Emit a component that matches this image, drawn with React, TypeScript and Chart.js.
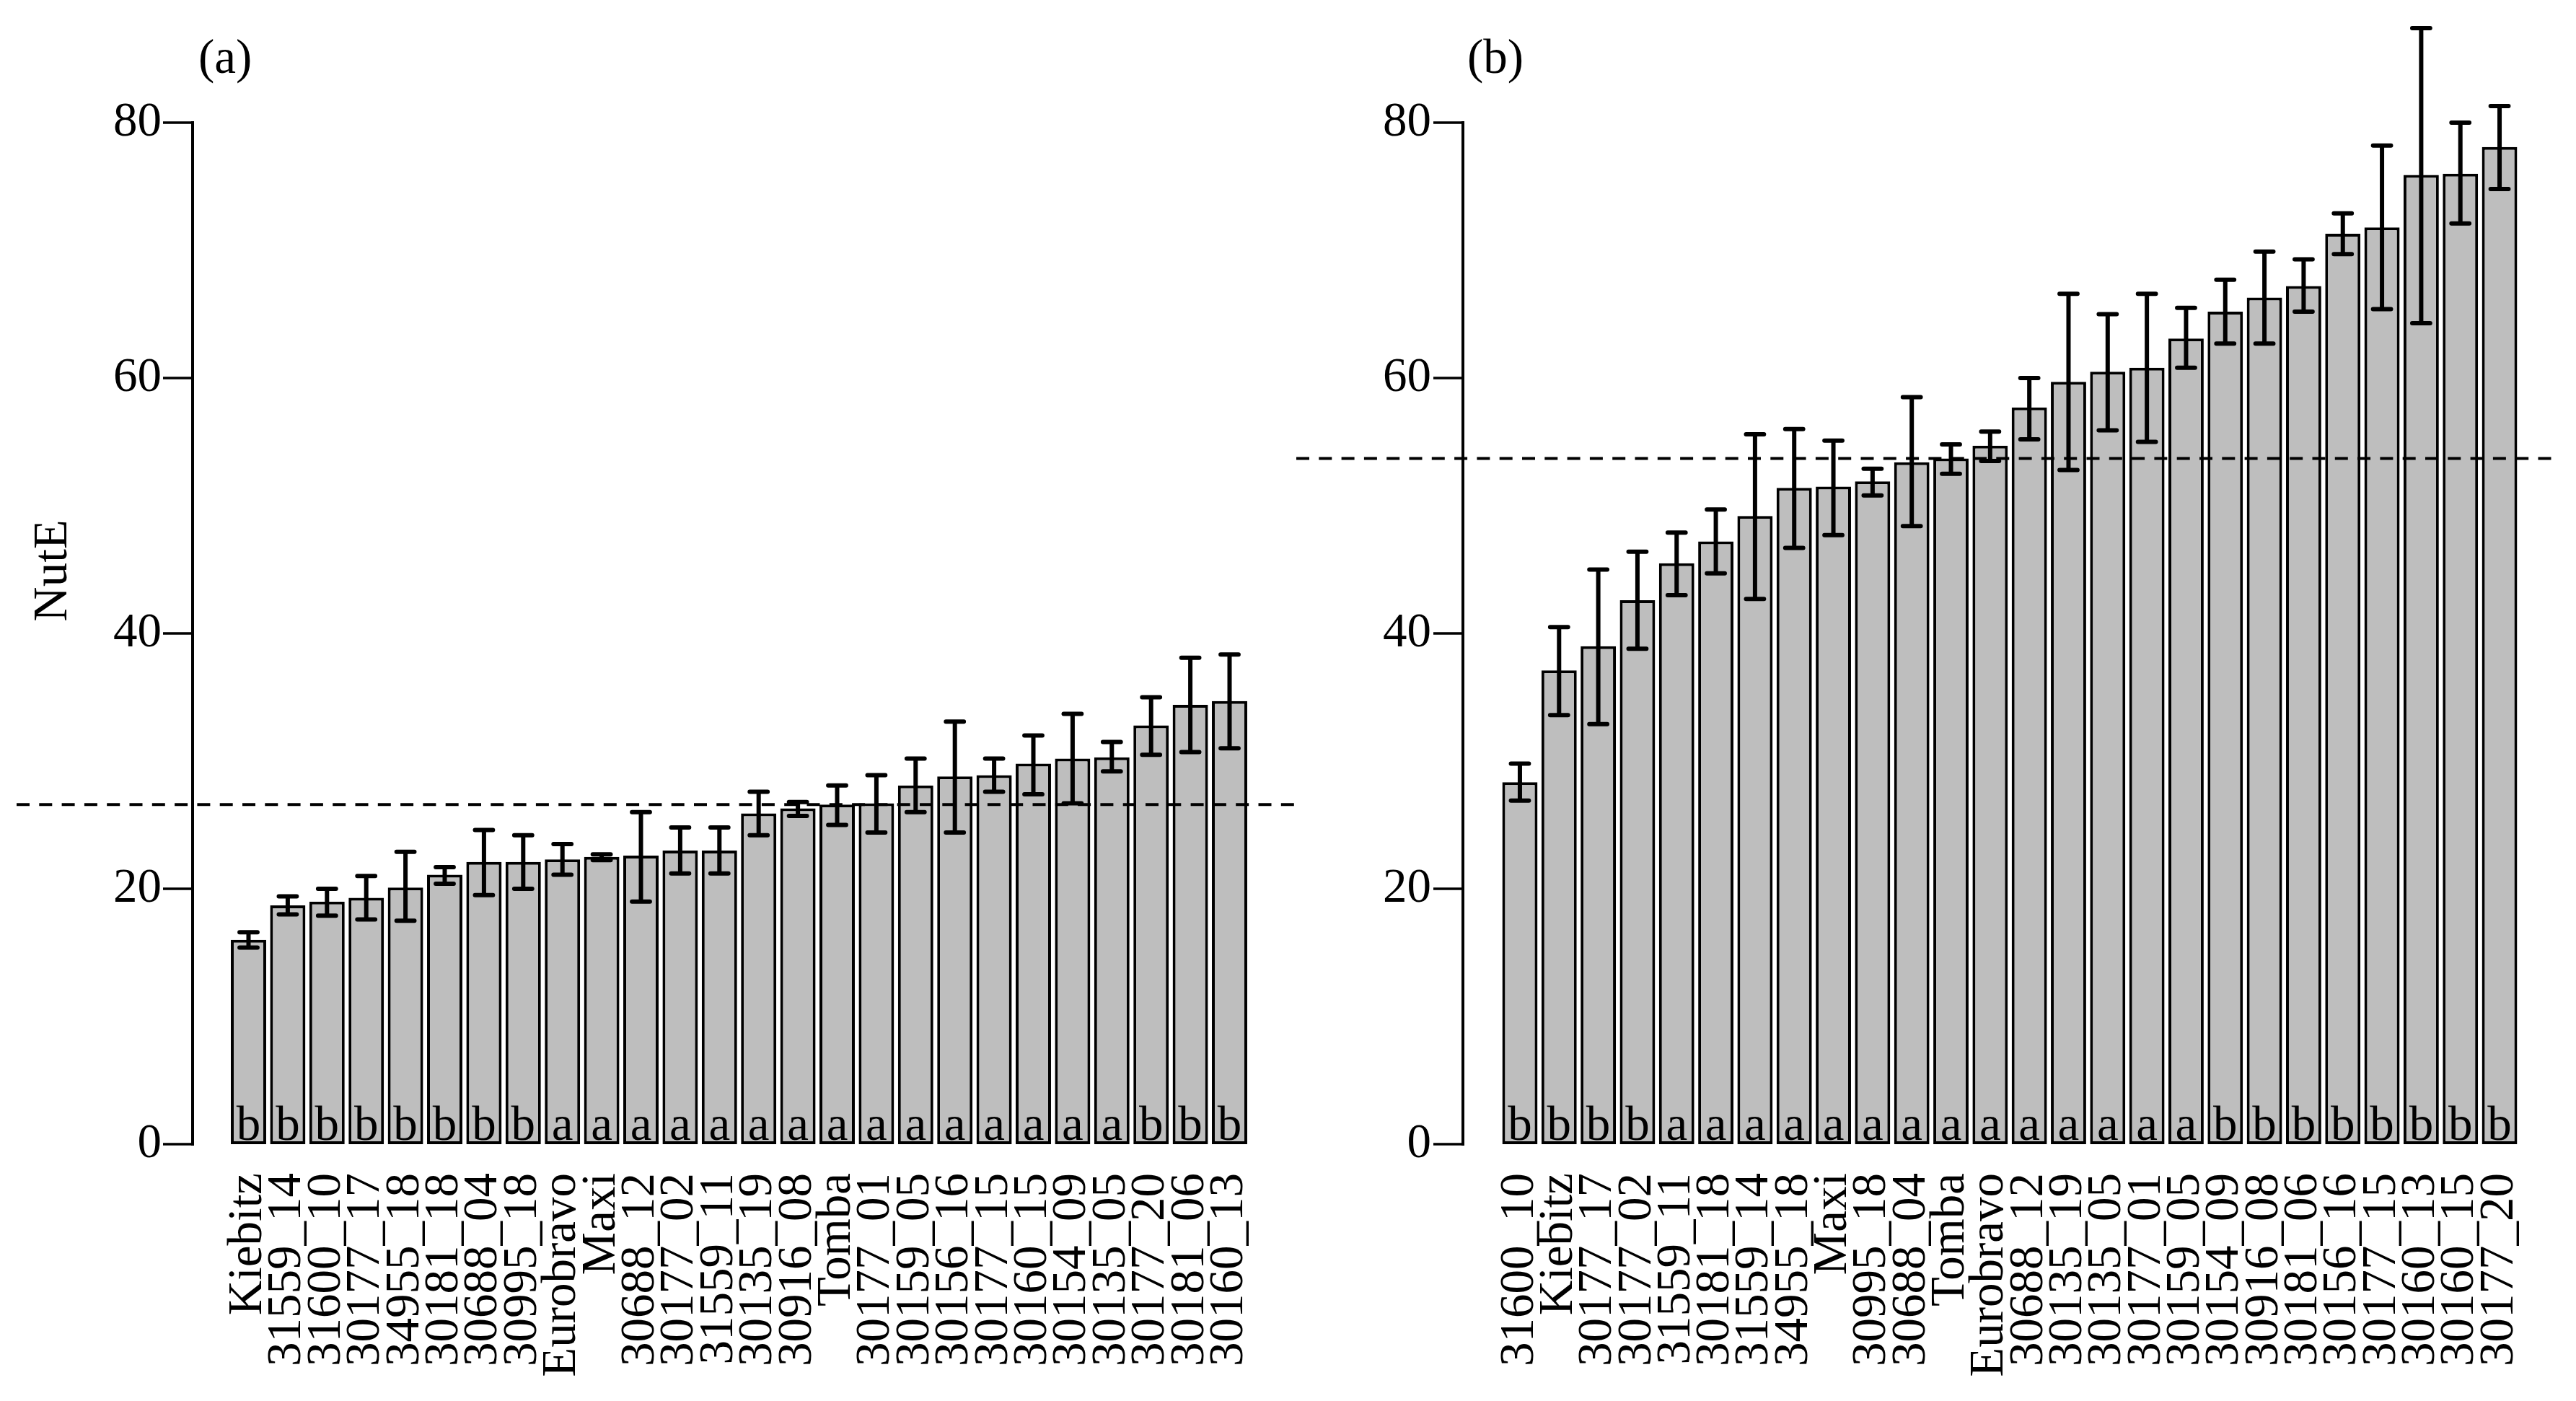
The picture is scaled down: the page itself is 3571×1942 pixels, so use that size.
import React, { useEffect, useRef } from 'react';
import { Chart, registerables } from 'chart.js';

Chart.register(...registerables);

// ---------- data ----------
const labelsA = ['Kiebitz', '31559_14', '31600_10', '30177_17', '34955_18', '30181_18', '30688_04', '30995_18', 'Eurobravo', 'Maxi', '30688_12', '30177_02', '31559_11', '30135_19', '30916_08', 'Tomba', '30177_01', '30159_05', '30156_16', '30177_15', '30160_15', '30154_09', '30135_05', '30177_20', '30181_06', '30160_13'];
const meansA = [16.0, 18.7, 19.0, 19.3, 20.1, 21.1, 22.1, 22.1, 22.3, 22.5, 22.6, 23.0, 23.0, 25.9, 26.3, 26.6, 26.7, 28.1, 28.8, 28.9, 29.8, 30.2, 30.3, 32.8, 34.4, 34.7];
const lowA = [15.4, 18.0, 17.9, 17.6, 17.5, 20.4, 19.5, 20.0, 21.1, 22.25, 19.0, 21.2, 21.2, 24.2, 25.7, 25.0, 24.4, 26.0, 24.4, 27.6, 27.4, 26.7, 29.2, 30.5, 30.7, 31.0];
const highA = [16.6, 19.4, 20.0, 21.0, 22.9, 21.7, 24.6, 24.2, 23.5, 22.7, 26.0, 24.8, 24.8, 27.6, 26.8, 28.1, 28.9, 30.2, 33.1, 30.2, 32.0, 33.7, 31.5, 35.0, 38.1, 38.35];
const groupsA = ['b', 'b', 'b', 'b', 'b', 'b', 'b', 'b', 'a', 'a', 'a', 'a', 'a', 'a', 'a', 'a', 'a', 'a', 'a', 'a', 'a', 'a', 'a', 'b', 'b', 'b'];
const meanLineA = 26.6;

const labelsB = ['31600_10', 'Kiebitz', '30177_17', '30177_02', '31559_11', '30181_18', '31559_14', '34955_18', 'Maxi', '30995_18', '30688_04', 'Tomba', 'Eurobravo', '30688_12', '30135_19', '30135_05', '30177_01', '30159_05', '30154_09', '30916_08', '30181_06', '30156_16', '30177_15', '30160_13', '30160_15', '30177_20'];
const meansB = [28.35, 37.1, 39.0, 42.6, 45.5, 47.2, 49.2, 51.4, 51.5, 51.9, 53.4, 53.7, 54.7, 57.7, 59.7, 60.5, 60.8, 63.1, 65.2, 66.3, 67.2, 71.3, 71.8, 75.9, 76.0, 78.1];
const lowB = [26.9, 33.6, 32.9, 38.8, 43.0, 44.7, 42.7, 46.7, 47.7, 50.8, 48.4, 52.5, 53.5, 55.2, 52.8, 55.9, 55.0, 60.8, 62.7, 62.7, 65.2, 69.7, 65.4, 64.3, 72.1, 74.8];
const highB = [29.8, 40.5, 45.0, 46.4, 47.9, 49.7, 55.6, 56.0, 55.1, 52.9, 58.5, 54.8, 55.8, 60.0, 66.6, 65.0, 66.6, 65.5, 67.7, 69.9, 69.3, 72.9, 78.2, 87.4, 80.0, 81.3];
const groupsB = ['b', 'b', 'b', 'b', 'a', 'a', 'a', 'a', 'a', 'a', 'a', 'a', 'a', 'a', 'a', 'a', 'a', 'a', 'b', 'b', 'b', 'b', 'b', 'b', 'b', 'b'];
const meanLineB = 53.7;

const yTicksStep = 20;
const yMin = 0;
const yMax = 88;
const yAxisTop = 80;
const yTitle = 'NutE';

// ---------- layout ----------
const H = 1942;
const FONT = "'Liberation Serif', 'Times New Roman', Times, serif";
const FS = 67;

type PanelCfg = {
  canvasLeft: number; width: number; chartLeft: number; chartRight: number;
  tickPad: number; axisX: number; tag: string; tagX: number;
  title?: string; dashFrom: number; dashTo: number;
  labels: string[]; means: number[]; low: number[]; high: number[]; groups: string[]; meanLine: number;
};

const panels: PanelCfg[] = [
  { canvasLeft: 0, width: 1798, chartLeft: 317.3, chartRight: 1731.7, tickPad: 93.3, axisX: 267, tag: '(a)', tagX: 275, title: yTitle, dashFrom: 23, dashTo: 1795,
    labels: labelsA, means: meansA, low: lowA, high: highA, groups: groupsA, meanLine: meanLineA },
  { canvasLeft: 1790, width: 1781, chartLeft: 289.8, chartRight: 1702.2, tickPad: 95.8, axisX: 238, tag: '(b)', tagX: 244, dashFrom: 7, dashTo: 1755,
    labels: labelsB, means: meansB, low: lowB, high: highB, groups: groupsB, meanLine: meanLineB },
];

function overlayPlugin(p: PanelCfg) {
  return {
    id: 'overlay',
    afterDatasetsDraw(chart: any) {
      const ctx: CanvasRenderingContext2D = chart.ctx;
      const y = chart.scales.y;
      const meta = chart.getDatasetMeta(0);
      ctx.save();
      // letters inside bars
      ctx.fillStyle = '#000';
      ctx.font = `${FS}px ${FONT}`;
      ctx.textAlign = 'center';
      ctx.textBaseline = 'alphabetic';
      const base = y.getPixelForValue(0);
      meta.data.forEach((bar: any, i: number) => {
        ctx.fillText(p.groups[i], bar.x, base - 6);
      });
      // error bars
      ctx.strokeStyle = '#000';
      ctx.lineWidth = 6;
      ctx.lineCap = 'round';
      meta.data.forEach((bar: any, i: number) => {
        const x = bar.x;
        const yl = y.getPixelForValue(p.low[i]);
        const yh = y.getPixelForValue(p.high[i]);
        ctx.beginPath();
        ctx.moveTo(x, yl); ctx.lineTo(x, yh);
        ctx.moveTo(x - 12.4, yl); ctx.lineTo(x + 12.4, yl);
        ctx.moveTo(x - 12.4, yh); ctx.lineTo(x + 12.4, yh);
        ctx.stroke();
      });
      // dashed mean line
      const ym = y.getPixelForValue(p.meanLine);
      ctx.lineWidth = 4;
      ctx.lineCap = 'butt';
      ctx.setLineDash([18, 13.3]);
      ctx.beginPath();
      ctx.moveTo(p.dashFrom, ym); ctx.lineTo(p.dashTo, ym);
      ctx.stroke();
      ctx.setLineDash([]);
      // y axis line and tick marks
      ctx.lineWidth = 4;
      ctx.lineCap = 'butt';
      ctx.beginPath();
      ctx.moveTo(p.axisX, y.getPixelForValue(yMin) + 2);
      ctx.lineTo(p.axisX, y.getPixelForValue(yAxisTop) - 2);
      ctx.stroke();
      ctx.lineWidth = 3.5;
      y.ticks.forEach((t: any) => {
        const py = y.getPixelForValue(t.value);
        ctx.beginPath();
        ctx.moveTo(p.axisX, py); ctx.lineTo(p.axisX - 41, py);
        ctx.stroke();
      });
      // panel tag
      ctx.textAlign = 'left';
      ctx.fillText(p.tag, p.tagX, 100.5);
      // y title
      if (p.title) {
        ctx.translate(92, 791);
        ctx.rotate(-Math.PI / 2);
        ctx.textAlign = 'center';
        ctx.fillText(p.title, 0, 0);
      }
      ctx.restore();
    },
  };
}

function Panel({ p }: { p: PanelCfg }) {
  const ref = useRef<HTMLCanvasElement>(null);
  useEffect(() => {
    const chart = new Chart(ref.current as HTMLCanvasElement, {
      type: 'bar',
      data: {
        labels: p.labels,
        datasets: [{
          data: p.means,
          backgroundColor: '#BEBEBE',
          borderColor: '#000',
          borderWidth: 4,
          borderSkipped: false,
          barPercentage: 0.9,
          categoryPercentage: 1,
        }],
      },
      options: {
        animation: false,
        responsive: false,
        devicePixelRatio: 1,
        layout: { padding: { top: 1586 - yMax * ((1586 - 170) / 80), right: p.width - p.chartRight, bottom: 0, left: 0 } },
        plugins: { legend: { display: false }, tooltip: { enabled: false }, title: { display: false } },
        scales: {
          x: {
            grid: { display: false, drawTicks: false },
            border: { display: false },
            ticks: {
              autoSkip: false, maxRotation: 90, minRotation: 90, padding: 40,
              color: '#000', font: { family: FONT, size: FS },
            },
            afterFit: (s: any) => { s.height = H - 1586; s.paddingLeft = 0; s.paddingRight = 0; },
          },
          y: {
            min: yMin, max: yMax,
            grid: { display: false, drawTicks: false },
            border: { display: false },
            ticks: {
              stepSize: yTicksStep, includeBounds: false, padding: p.tickPad,
              color: '#000', font: { family: FONT, size: FS },
            },
            afterFit: (s: any) => { s.width = p.chartLeft; s.paddingTop = 0; s.paddingBottom = 0; },
          },
        },
      },
      plugins: [overlayPlugin(p)],
    } as any);
    return () => chart.destroy();
  }, []);
  return (
    <canvas ref={ref} width={p.width} height={H}
      style={{ position: 'absolute', left: p.canvasLeft, top: 0, width: p.width, height: H }} />
  );
}

export default function App() {
  return (
    <div style={{ position: 'absolute', left: 0, top: 0, width: 3571, height: H, background: '#fff', overflow: 'hidden' }}>
      {panels.map((p) => <Panel key={p.tag} p={p} />)}
    </div>
  );
}
